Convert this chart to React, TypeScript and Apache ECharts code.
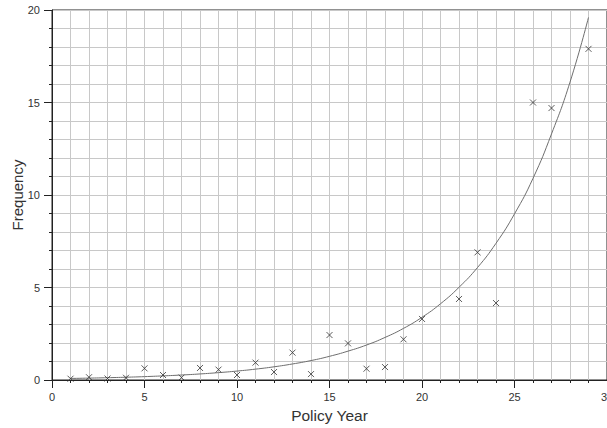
import React, { useEffect, useRef } from "react";
import * as echarts from "echarts";

const policyYears = [1, 2, 3, 4, 5, 6, 7, 8, 9, 10, 11, 12, 13, 14, 15, 16, 17, 18, 19, 20, 22, 23, 24, 26, 27, 29];
const frequencies = [0.07, 0.15, 0.08, 0.12, 0.63, 0.27, 0.13, 0.65, 0.56, 0.27, 0.94, 0.43, 1.48, 0.32, 2.43, 1.98, 0.61, 0.7, 2.2, 3.3, 4.38, 6.9, 4.16, 15.0, 14.7, 17.9];

const fitYears = [1, 2, 3, 4, 5, 6, 7, 8, 9, 10, 11, 12, 13, 14, 15, 16, 17, 18, 19, 20, 21, 22, 23, 24, 25, 26, 27, 28, 29];
const fitValues = [0.084, 0.102, 0.124, 0.15, 0.182, 0.222, 0.269, 0.327, 0.398, 0.483, 0.587, 0.713, 0.867, 1.05, 1.28, 1.56, 1.89, 2.3, 2.79, 3.39, 4.12, 5.01, 6.08, 7.39, 8.98, 10.9, 13.3, 16.1, 19.6];

const FONT = "Liberation Sans, Arial, sans-serif";

export default function App() {
  const ref = useRef<HTMLDivElement>(null);
  useEffect(() => {
    if (!ref.current) return;
    const chart = echarts.init(ref.current, null, { renderer: "svg" });
    const gridColor = "#c8c8c8";
    const axisColor = "#222";
    chart.setOption({
      animation: false,
      backgroundColor: "#fff",
      grid: {
        left: 52, top: 10, width: 555, height: 370,
        containLabel: false, outerBoundsMode: "none",
        show: true, borderColor: axisColor, borderWidth: 1,
      },
      xAxis: {
        type: "value",
        min: 0,
        max: 30,
        interval: 5,
        name: "Policy Year",
        nameLocation: "middle",
        nameGap: 27,
        nameMoveOverlap: false,
        nameTextStyle: { fontFamily: FONT, fontSize: 15.5, color: "#333" },
        axisLine: { show: true, onZero: false, lineStyle: { color: axisColor, width: 1 } },
        axisTick: { show: true, length: 8, lineStyle: { color: axisColor } },
        minorTick: { show: true, splitNumber: 5, length: 3, lineStyle: { color: axisColor } },
        axisLabel: { fontFamily: FONT, fontSize: 11, color: "#333", margin: 11 },
        splitLine: { show: true, lineStyle: { color: gridColor, width: 1 } },
        minorSplitLine: { show: true, lineStyle: { color: gridColor, width: 1 } },
      },
      yAxis: {
        type: "value",
        min: 0,
        max: 20,
        interval: 5,
        name: "Frequency",
        nameLocation: "middle",
        nameGap: 27,
        nameMoveOverlap: false,
        nameRotate: 90,
        nameTextStyle: { fontFamily: FONT, fontSize: 15, color: "#333" },
        axisLine: { show: true, onZero: false, lineStyle: { color: axisColor, width: 1 } },
        axisTick: { show: true, length: 8, lineStyle: { color: axisColor } },
        minorTick: { show: true, splitNumber: 5, length: 3, lineStyle: { color: axisColor } },
        axisLabel: { fontFamily: FONT, fontSize: 11, color: "#333", margin: 12 },
        splitLine: { show: true, lineStyle: { color: gridColor, width: 1 } },
        minorSplitLine: { show: true, lineStyle: { color: gridColor, width: 1 } },
      },
      series: [
        {
          type: "line",
          data: fitYears.map((x, i) => [x, fitValues[i]]),
          smooth: true,
          showSymbol: false,
          symbol: "none",
          lineStyle: { color: "#6e6e6e", width: 1 },
          z: 2,
        },
        {
          type: "scatter",
          data: policyYears.map((x, i) => [x, frequencies[i]]),
          symbol: "path://M0,0L10,10M10,0L0,10",
          symbolSize: 6,
          itemStyle: { color: "none", borderColor: "#333", borderWidth: 1 },
          z: 3,
        },
      ],
    });
    return () => chart.dispose();
  }, []);
  return <div ref={ref} style={{ position: "absolute", left: 0, top: 0, width: 607, height: 428 }} />;
}
